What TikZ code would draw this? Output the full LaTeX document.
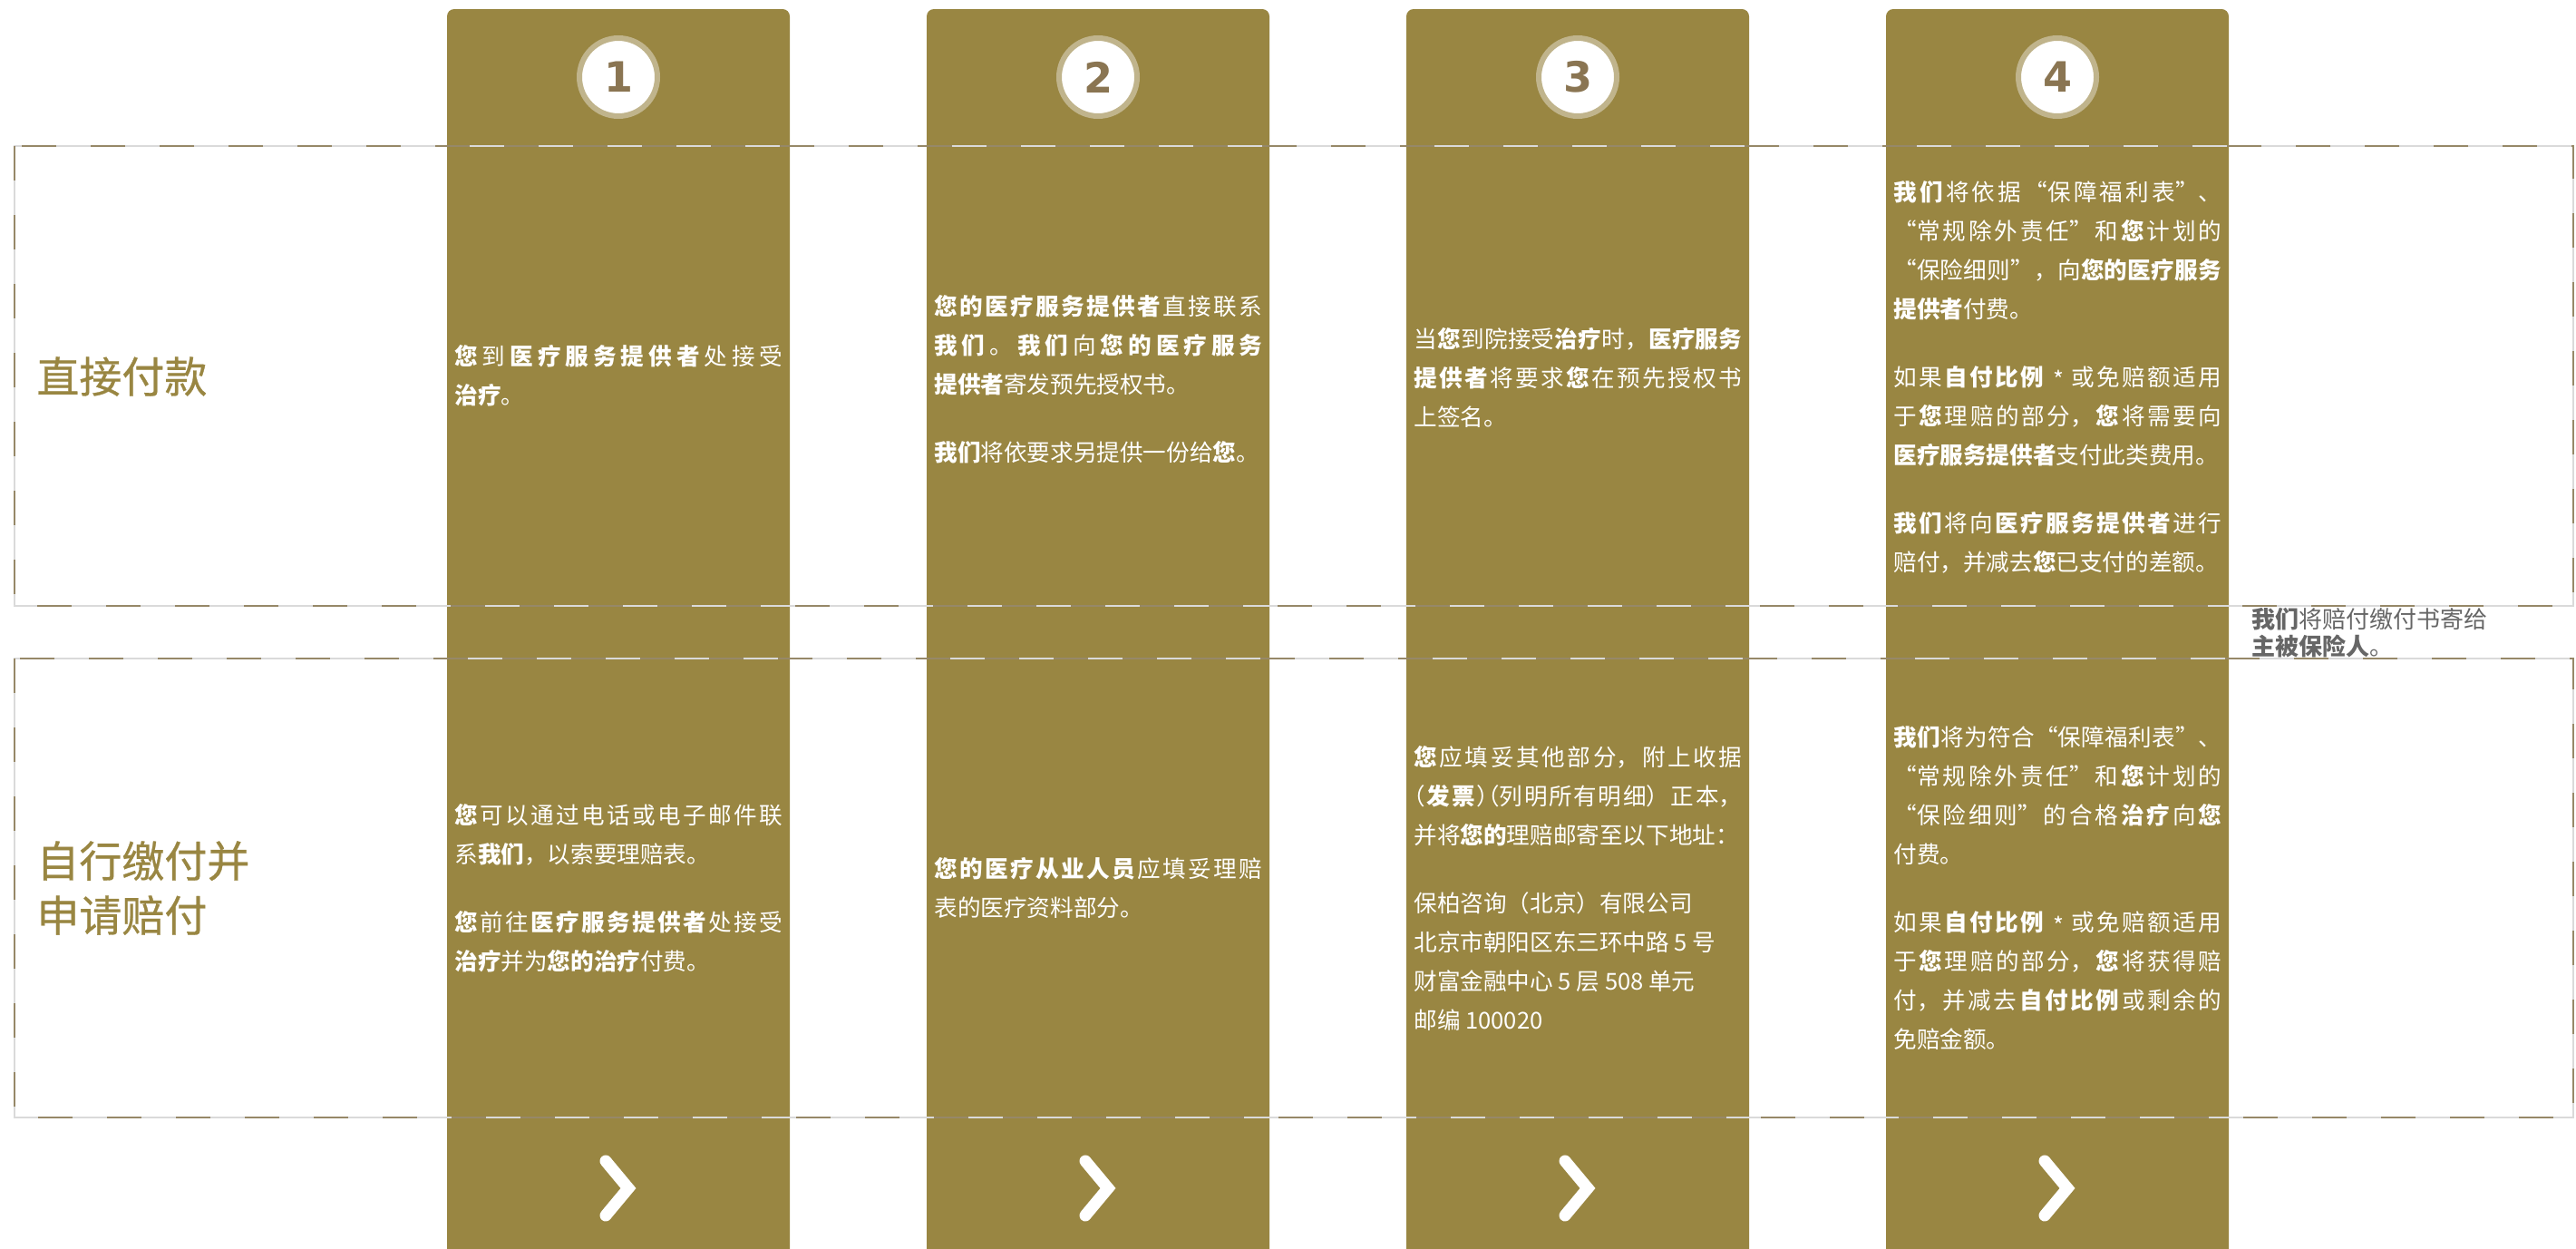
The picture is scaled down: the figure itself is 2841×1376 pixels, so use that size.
\documentclass[tikz,border=0pt]{standalone}
\usepackage{fontspec}
\setmainfont{Noto Sans CJK SC}
\newfontfamily\numfont{DejaVu Sans}
\XeTeXlinebreaklocale "zh"
\XeTeXlinebreakskip=0pt plus 5pt
\tolerance=9999
\definecolor{gold}{RGB}{153,134,66}
\definecolor{ring}{RGB}{192,180,140}
\definecolor{numc}{RGB}{138,117,82}
\definecolor{dashdark}{RGB}{150,136,104}
\definecolor{dashlight}{RGB}{218,218,218}
\definecolor{notegrey}{RGB}{102,102,102}
\newcommand\bz[1]{\hskip0pt plus 5pt\relax\textbf{#1}\hskip0pt plus 5pt\relax}
\newcommand\bzs[1]{\textbf{#1}\hskip0pt plus 5pt\relax}
\newcommand\hlp{\makebox[0.5em][r]{（}}
\newcommand\hrp{\makebox[0.5em][l]{）}}
\newcommand\astk{\hspace{0.3em}\raisebox{-0.15em}{*}\hspace{0.3em}}
\tikzset{
  colbox/.style={fill=gold, rounded corners=4pt},
  body/.style={anchor=west, text width=181pt, inner sep=0pt, text=white, align=justify,
    font=\fontsize{12.8pt}{21.5pt}\selectfont},
  titletext/.style={anchor=west, inner sep=0pt, text=gold, align=left,
    font=\addfontfeature{FakeBold=0.6}\fontsize{23.5pt}{30pt}\selectfont},
  num/.style={circle, fill=white, draw=ring, line width=3pt, minimum size=43pt,
    inner sep=0pt, text=numc, font=\numfont\bfseries\fontsize{23pt}{23pt}\selectfont},
  chev/.style={draw=white, line width=6.5pt, line cap=round, line join=miter},
  dashbg/.style={draw=dashlight, line width=1pt},
  dashfg/.style={draw=dashdark, line width=1pt, dash pattern=on 19pt off 19pt},
  notetext/.style={anchor=west, inner sep=0pt, text=notegrey, align=left,
    font=\fontsize{13pt}{15pt}\selectfont}
}
\begin{document}
\begin{tikzpicture}[x=0.5pt,y=-0.5pt]
\useasboundingbox (0,0) rectangle (2841,1376);
% columns
\foreach \i in {0,1,2,3}{
  \pgfmathsetmacro\cl{493+529*\i}
  \fill[colbox] (\cl,1400) -- (\cl,10) -- (\cl+378,10) -- (\cl+378,1400) -- cycle;
}
% dashed boxes
\draw[dashbg] (16,161) rectangle (2838,668);
\draw[dashfg] (16,161) rectangle (2838,668);
\draw[dashbg] (16,726) rectangle (2838,1232);
\draw[dashfg] (16,726) rectangle (2838,1232);
% number circles
\node[num] (n1) at (682,85) {1};
\node[num] (n2) at (1211,85) {2};
\node[num] (n3) at (1740,85) {3};
\node[num] (n4) at (2269,85) {4};
% chevrons
\foreach \i in {0,1,2,3}{
  \pgfmathsetmacro\cx{682+529*\i}
  \draw[chev] (\cx-14,1280) -- (\cx+11,1310) -- (\cx-14,1340);
}
% titles
\node[titletext] (t1) at (40,415) {直接付款};
\node[titletext] (t2) at (40,979) {自行缴付并\\申请赔付};
% column 1
\node[body] (c1a) at (501,414.5) {\bzs{您}到\bz{医疗服务提供者}处接受\linebreak\bz{治疗}。};
\node[body] (c1b) at (501,979) {\bzs{您}可以通过电话或电子邮件联\linebreak 系\bz{我们}，以索要理赔表。\\[16pt]\bz{您}前往\bz{医疗服务提供者}处接受\linebreak\bz{治疗}并为\bz{您的治疗}付费。};
% column 2
\node[body] (c2a) at (1030,418) {\bzs{您的医疗服务提供者}直接联系\linebreak\bz{我们}。\bz{我们}向\bz{您的医疗服务}\linebreak\bz{提供者}寄发预先授权书。\\[16pt]\bz{我们}将依要求另提供一份给\bz{您}。};
\node[body] (c2b) at (1030,979) {\bzs{您的医疗从业人员}应填妥理赔\linebreak 表的医疗资料部分。};
% column 3
\node[body] (c3a) at (1559,416) {当\bz{您}到院接受\bz{治疗}时，\bz{医疗服务}\linebreak\bz{提供者}将要求\bz{您}在预先授权书\linebreak 上签名。};
\node[body] (c3b) at (1559,979) {\bzs{您}应填妥其他部分，附上收据\linebreak\hlp\bz{发票}\hrp\hlp 列明所有明细）正本，\linebreak 并将\bz{您的}理赔邮寄至以下地址：\\[16pt]保柏咨询（北京）有限公司\\北京市朝阳区东三环中路 5 号\\财富金融中心 5 层 508 单元\\邮编 100020};
% column 4
\node[body] (c4a) at (2088,415.5) {\bzs{我们}将依据“保障福利表”、\linebreak“常规除外责任”和\bz{您}计划的\linebreak“保险细则”，向\bz{您的医疗服务}\linebreak\bz{提供者}付费。\\[16pt]如果\bz{自付比例}\astk 或免赔额适用\linebreak 于\bz{您}理赔的部分，\bz{您}将需要向\linebreak\bz{医疗服务提供者}支付此类费用。\\[16pt]\bz{我们}将向\bz{医疗服务提供者}进行\linebreak 赔付，并减去\bz{您}已支付的差额。};
\node[body] (c4b) at (2088,979) {\bzs{我们}将为符合“保障福利表”、\linebreak“常规除外责任”和\bz{您}计划的\linebreak“保险细则”的合格\bz{治疗}向\bz{您}\linebreak 付费。\\[16pt]如果\bz{自付比例}\astk 或免赔额适用\linebreak 于\bz{您}理赔的部分，\bz{您}将获得赔\linebreak 付，并减去\bz{自付比例}或剩余的\linebreak 免赔金额。};
% side note
\node[notetext] (note) at (2483,698) {\bzs{我们}将赔付缴付书寄给\\\bzs{主被保险人}。};
\end{tikzpicture}
\end{document}
